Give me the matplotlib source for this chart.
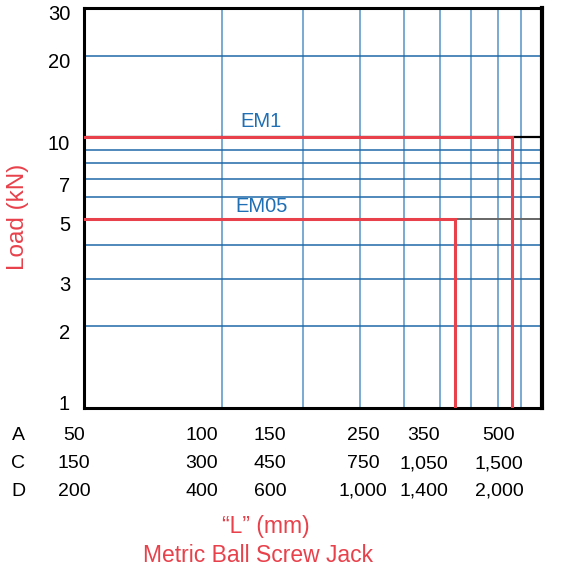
import matplotlib
matplotlib.use("Agg")
import matplotlib.pyplot as plt
from matplotlib.transforms import ScaledTranslation

plt.rcParams['font.family'] = ['Liberation Sans', 'DejaVu Sans']

# chart data
x_grid = [100, 150, 200, 250, 300, 350, 400, 450]
y_grid = [2, 3, 4, 6, 7, 8, 9, 20]
y_ticks = [1, 2, 3, 5, 7, 10, 20, 30]
models = ["EM1", "EM05"]
model_load = [10, 5]
model_length = [430, 323]
label_x = [122, 122]
label_y = [11.4, 5.55]

row_names = ["A", "C", "D"]
row_a = ["50", "100", "150", "250", "350", "500"]
row_c = ["150", "300", "450", "750", "1,050", "1,500"]
row_d = ["200", "400", "600", "1,000", "1,400", "2,000"]
col_px = [74, 202, 270, 363, 424, 499]   # label centres in pixels
row_px = [436, 464, 491]

RED = "#e8414b"
BLUE = "#2a78b8"
W, H = 579, 571

fig = plt.figure(figsize=(W / 100, H / 100), dpi=100)
ax = fig.add_axes([84 / W, 1 - 408 / H, 458 / W, 400 / H])
ax.set_xscale("log")
ax.set_yscale("log")
ax.set_xlim(50, 500)
ax.set_ylim(1, 30)

for xv in x_grid:
    ax.axvline(xv, color=BLUE, lw=1.1, alpha=0.8, zorder=1)
for yv in y_grid:
    ax.axhline(yv, color="#1f69a8", lw=1.1, zorder=1)
ax.axhline(10, color="black", lw=1.6, zorder=1)
ax.axhline(5, color="#666666", lw=1.4, zorder=1)

for name, load, length, tx, ty in zip(models, model_load, model_length, label_x, label_y):
    ax.plot([50, length, length], [load, load, 1], color=RED, lw=2.2, zorder=3,
            solid_joinstyle="miter")
    ax.text(tx, ty, name, color="#1f6fb5", fontsize=14.5, ha="center", va="center")

for s in ax.spines.values():
    s.set_color("black")
    s.set_linewidth(2.2)
ax.spines["right"].set_linewidth(3)

ax.set_xticks([])
ax.set_xticks([], minor=True)
ax.set_yticks(y_ticks)
ax.set_yticklabels([str(v) for v in y_ticks])
ax.set_yticks([], minor=True)
ax.tick_params(axis="y", length=0, pad=10, labelsize=14.5)
for lab, v in zip(ax.get_yticklabels(), y_ticks):
    dy = 0.06 if v == 1 else -0.05
    lab.set_transform(lab.get_transform() + ScaledTranslation(0, dy, fig.dpi_scale_trans))

fig.text(18 / W, 1 - 217 / H, "Load (kN)", color=RED, fontsize=17.5, rotation=90,
         ha="center", va="center")

for name, ry, row in zip(row_names, row_px, [row_a, row_c, row_d]):
    fig.text(18 / W, 1 - ry / H, name, fontsize=14, ha="center", va="center")
    for cx, txt in zip(col_px, row):
        fig.text(cx / W, 1 - ry / H, txt, fontsize=14, ha="center", va="center")

fig.text(266 / W, 1 - 527 / H, "\u201cL\u201d (mm)", color=RED, fontsize=16.5,
         ha="center", va="center")
fig.text(258 / W, 1 - 556 / H, "Metric Ball Screw Jack", color=RED, fontsize=16.5,
         ha="center", va="center")

fig.savefig("out.png", dpi=100)
